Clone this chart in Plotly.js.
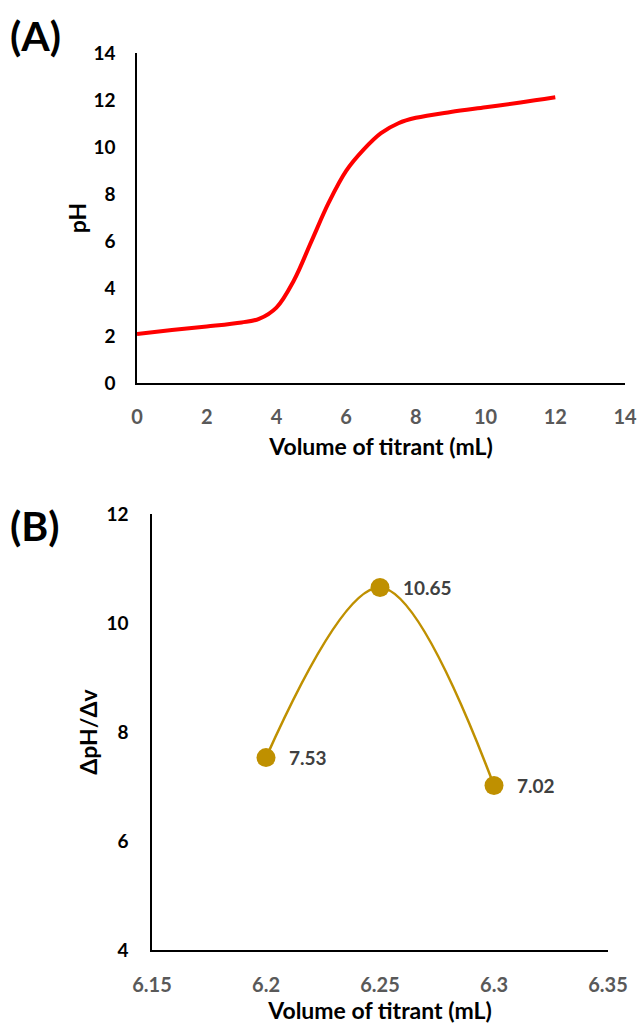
<!DOCTYPE html>
<html>
<head>
<meta charset="utf-8">
<script src="https://cdn.plot.ly/plotly-3.0.1.min.js"></script>
<style>html,body{margin:0;padding:0;background:#fff;}#chart{width:637px;height:1027px;}</style>
</head>
<body>
<div id="chart"></div>
<script>
// Panel A: titration curve
const volumeA = [0, 1, 2, 3, 3.5, 4, 4.5, 5, 5.5, 6, 6.5, 7, 7.5, 8, 9, 10, 11, 12];
const pHA = [2.08, 2.25, 2.4, 2.57, 2.72, 3.2, 4.35, 6.0, 7.65, 9.0, 9.9, 10.6, 11.02, 11.25, 11.5, 11.7, 11.9, 12.12];
const ticksA = [0, 2, 4, 6, 8, 10, 12, 14];

// Panel B: first derivative
const volumeB = [6.2, 6.25, 6.3];
const derivB = [7.53, 10.65, 7.02];
const labelsB = ["7.53", "10.65", "7.02"];
const xTicksB = [6.15, 6.2, 6.25, 6.3, 6.35];
const xTickTextB = ["6.15", "6.2", "6.25", "6.3", "6.35"];
const yTicksB = [4, 6, 8, 10, 12];

const FONT = "Lato, 'Open Sans', sans-serif";
const W = 637, H = 1027;
const GOLD = "#BF9000";

const traces = [
  {
    x: volumeA, y: pHA, type: "scatter", mode: "lines",
    line: {color: "#FF0000", width: 4, shape: "spline", smoothing: 1},
    xaxis: "x", yaxis: "y", hoverinfo: "skip"
  },
  {
    x: volumeB, y: derivB, type: "scatter", mode: "lines+markers",
    line: {color: GOLD, width: 2.5, shape: "spline", smoothing: 1},
    marker: {color: GOLD, size: 19},
    xaxis: "x2", yaxis: "y2", hoverinfo: "skip"
  }
];

const axCommon = {
  showgrid: false, zeroline: false, showline: true, linecolor: "#000", linewidth: 1.6,
  ticks: "", fixedrange: true, automargin: false
};
const titleFont = {family: FONT, size: 23, color: "#000", weight: "bold"};
const yTickFont = {family: FONT, size: 19, color: "#000", weight: "bold"};
const xTickFont = {family: FONT, size: 20, color: "#595959", weight: "bold"};

const labelAnnotations = volumeB.map((v, i) => ({
  text: labelsB[i], xref: "x2", yref: "y2", x: v, y: derivB[i],
  xanchor: "left", yanchor: "middle", xshift: 21, showarrow: false,
  font: {family: FONT, size: 19, color: "#404040", weight: "bold"}
}));

const layout = {
  width: W, height: H,
  margin: {l: 0, r: 0, t: 0, b: 0},
  paper_bgcolor: "#fff", plot_bgcolor: "rgba(0,0,0,0)",
  showlegend: false,
  font: {family: FONT},
  xaxis: Object.assign({}, axCommon, {
    domain: [137 / W, 625 / W], range: [0, 14], tickvals: ticksA,
    anchor: "y",
    tickfont: xTickFont,
    ticklabelstandoff: 15,
    title: {text: "Volume of titrant (mL)", font: titleFont, standoff: 12}
  }),
  yaxis: Object.assign({}, axCommon, {
    domain: [1 - 383 / H, 1 - 53 / H], range: [0, 14], tickvals: ticksA,
    anchor: "x",
    tickfont: yTickFont,
    ticklabelstandoff: 16,
    title: {text: "pH", font: titleFont, standoff: 0}
  }),
  xaxis2: Object.assign({}, axCommon, {
    domain: [152 / W, 608 / W], range: [6.15, 6.35], tickvals: xTicksB, ticktext: xTickTextB,
    anchor: "y2",
    tickfont: xTickFont,
    ticklabelstandoff: 16,
    title: {text: "Volume of titrant (mL)", font: titleFont, standoff: 8}
  }),
  yaxis2: Object.assign({}, axCommon, {
    domain: [1 - 950 / H, 1 - 514 / H], range: [4, 12], tickvals: yTicksB,
    anchor: "x2",
    tickfont: yTickFont,
    ticklabelstandoff: 18,
    title: {text: "ΔpH/Δv", font: titleFont, standoff: 2}
  }),
  annotations: [
    {text: "(A)", xref: "paper", yref: "paper", x: 8 / W, y: 1 - 35 / H, xanchor: "left", yanchor: "middle",
     showarrow: false, font: {family: FONT, size: 41, color: "#000", weight: "bold"}},
    {text: "(B)", xref: "paper", yref: "paper", x: 8 / W, y: 1 - 525 / H, xanchor: "left", yanchor: "middle",
     showarrow: false, font: {family: FONT, size: 41, color: "#000", weight: "bold"}}
  ].concat(labelAnnotations)
};

Plotly.newPlot("chart", traces, layout, {displayModeBar: false, staticPlot: true});
</script>
</body>
</html>
